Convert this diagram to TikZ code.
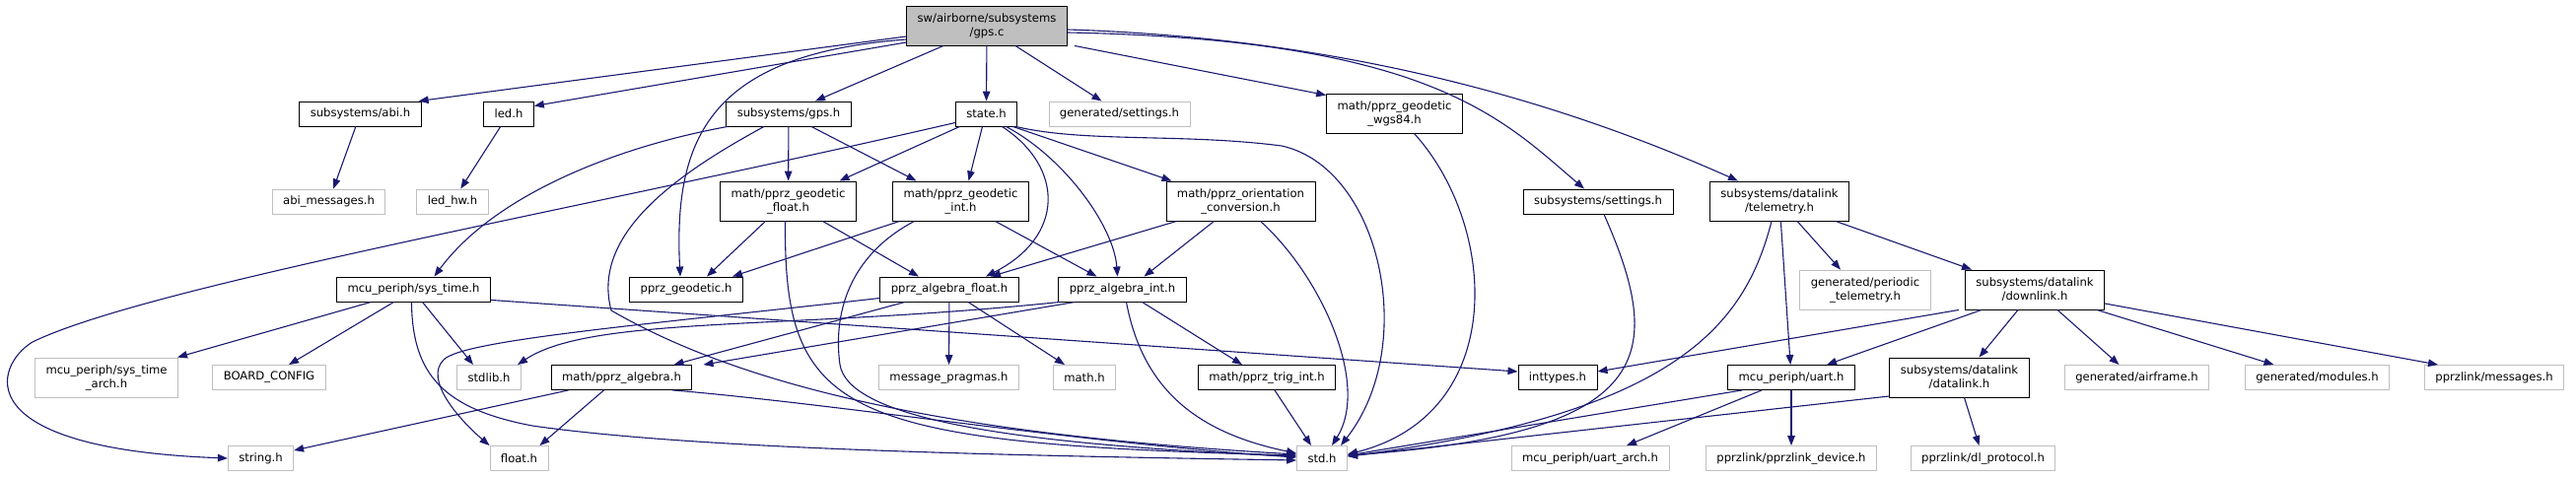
\documentclass[tikz,border=0pt]{standalone}
\usepackage{fontspec}
\setmainfont{DejaVu Sans}
\usetikzlibrary{arrows.meta}
\definecolor{DepNavy}{HTML}{191970}
\definecolor{DepGray}{HTML}{BFBFBF}
\tikzset{
depblock/.style={draw=black, line width=0.9pt, fill=white, align=center, inner xsep=11pt,
  minimum height=25pt, font=\fontsize{11.6}{14}\selectfont},
depgrey/.style={depblock, draw=DepGray},
deproot/.style={depblock, fill=DepGray},
deptwo/.style={minimum height=40pt},
deparrow/.style={-{Triangle[length=10pt,width=7.5pt]}, line width=1.1pt, draw=DepNavy}
}
\begin{document}
\begin{tikzpicture}[x=1pt, y=-1pt]
\useasboundingbox (0,0) rectangle (2613,484);

% rank 0 and 1
\node[deproot, deptwo] (gpsc) at (1001,26) {sw/airborne/subsystems\\/gps.c};
\node[depblock] (abi) at (365.5,115.5) {subsystems/abi.h};
\node[depblock] (led) at (516,115.5) {led.h};
\node[depblock] (gpsh) at (800,115.5) {subsystems/gps.h};
\node[depblock] (stateh) at (1000.5,115.5) {state.h};
\node[depgrey] (gensettings) at (1135.5,115.5) {generated/settings.h};
\node[depblock, deptwo] (wgs84) at (1414.5,115) {math/pprz\_geodetic\\\_wgs84.h};

% rank 2
\node[depgrey] (abimsg) at (333.5,204.5) {abi\_messages.h};
\node[depgrey] (ledhw) at (459,204.5) {led\_hw.h};
\node[depblock, deptwo] (geofloat) at (799.5,204) {math/pprz\_geodetic\\\_float.h};
\node[depblock, deptwo] (geoint) at (974.5,204) {math/pprz\_geodetic\\\_int.h};
\node[depblock, deptwo] (orient) at (1258.5,204) {math/pprz\_orientation\\\_conversion.h};
\node[depblock] (subsettings) at (1621,204.5) {subsystems/settings.h};
\node[depblock, deptwo] (telemetry) at (1805,204) {subsystems/datalink\\/telemetry.h};

% rank 3
\node[depblock] (systime) at (419.5,293.5) {mcu\_periph/sys\_time.h};
\node[depblock] (geodetic) at (696,293.5) {pprz\_geodetic.h};
\node[depblock] (algfloat) at (963,293.5) {pprz\_algebra\_float.h};
\node[depblock] (algint) at (1138.5,293.5) {pprz\_algebra\_int.h};
\node[depgrey, deptwo] (periodic) at (1892,294) {generated/periodic\\\_telemetry.h};
\node[depblock, deptwo] (downlink) at (2064,294) {subsystems/datalink\\/downlink.h};

% rank 4
\node[depgrey, deptwo] (systimearch) at (108,383) {mcu\_periph/sys\_time\\\_arch.h};
\node[depgrey] (boardcfg) at (273,383) {BOARD\_CONFIG};
\node[depgrey] (stdlib) at (496,383) {stdlib.h};
\node[depblock] (algebra) at (630.5,383) {math/pprz\_algebra.h};
\node[depgrey] (msgpragmas) at (962.5,383) {message\_pragmas.h};
\node[depgrey] (mathh) at (1100,383) {math.h};
\node[depblock] (trigint) at (1285,383) {math/pprz\_trig\_int.h};
\node[depblock] (inttypes) at (1580,383) {inttypes.h};
\node[depblock] (uart) at (1817,383) {mcu\_periph/uart.h};
\node[depblock, deptwo] (datalink) at (1987.5,383) {subsystems/datalink\\/datalink.h};
\node[depgrey] (airframe) at (2167.5,383) {generated/airframe.h};
\node[depgrey] (modules) at (2350.5,383) {generated/modules.h};
\node[depgrey] (messages) at (2530,383) {pprzlink/messages.h};

% rank 5
\node[depgrey] (stringh) at (264.5,465) {string.h};
\node[depgrey] (floath) at (526.5,465) {float.h};
\node[depgrey] (stdh) at (1341,465) {std.h};
\node[depgrey] (uartarch) at (1613,465) {mcu\_periph/uart\_arch.h};
\node[depgrey] (pldevice) at (1817,465) {pprzlink/pprzlink\_device.h};
\node[depgrey] (dlproto) at (2011.5,465) {pprzlink/dl\_protocol.h};

% straight down
\foreach \a/\b in {gpsc/stateh,abi/abimsg,led/ledhw,gpsh/geofloat,telemetry/uart,algfloat/msgpragmas,uart/pldevice}
\draw[deparrow] (\a) -- (\b);

% gps.c
\draw[deparrow] ([yshift=-11]gpsc.west) -- ([xshift=-3]abi.north east);
\draw[deparrow] ([yshift=-17]gpsc.west) -- ([yshift=8]led.east);
\draw[deparrow] ([xshift=-44]gpsc.south) -- ([xshift=27]gpsh.north);
\draw[deparrow] ([yshift=-14]gpsc.west) .. controls (720,55) and (683,140) .. ([xshift=-6]geodetic.north);
\draw[deparrow] ([xshift=29]gpsc.south) -- ([xshift=-18]gensettings.north);
\draw[deparrow] ([xshift=89]gpsc.south) -- ([yshift=-2]wgs84.north west);
\draw[deparrow] ([yshift=-7]gpsc.east) .. controls (1450,40) and (1523,120) .. ([xshift=-14]subsettings.north);
\draw[deparrow] ([yshift=-4]gpsc.east) .. controls (1400,40) and (1620,120) .. ([xshift=-42]telemetry.north);

% subsystems/gps.h
\draw[deparrow] ([xshift=-62]gpsh.south) .. controls (620,150) and (500,200) .. ([xshift=21]systime.north);
\draw[deparrow] ([xshift=23]gpsh.south) -- ([xshift=-45]geoint.north);
\draw[deparrow] ([xshift=-25]gpsh.south) .. controls (680,180) and (600,240) .. (620,315)
  .. controls (750,390) and (950,440) .. ([yshift=4]stdh.west);

% state.h
\draw[deparrow] ([yshift=-9]stateh.west) .. controls (600,210) and (150,290) .. (33,347)
  .. controls (-5,370) and (-37,455) .. (stringh.west);
\draw[deparrow] ([xshift=-27]stateh.south) -- ([xshift=52]geofloat.north);
\draw[deparrow] ([xshift=-4]stateh.south) -- ([xshift=8]geoint.north);
\draw[deparrow] ([xshift=16]stateh.south) .. controls (1080,170) and (1080,240) .. ([xshift=37]algfloat.north);
\draw[deparrow] ([xshift=20]stateh.south) .. controls (1080,160) and (1130,230) .. ([xshift=-5]algint.north);
\draw[deparrow] ([xshift=27]stateh.south) -- ([xshift=-70]orient.north);
\draw[deparrow] ([xshift=30]stateh.south) .. controls (1100,145) and (1200,135) .. (1300,148)
  .. controls (1400,170) and (1440,350) .. ([xshift=19]stdh.north);

% geodetic float / int, orientation
\draw[deparrow] ([xshift=-23]geofloat.south) -- ([xshift=21]geodetic.north);
\draw[deparrow] ([xshift=-3]geofloat.south) .. controls (795,420) and (850,450) .. ([yshift=3]stdh.west);
\draw[deparrow] ([xshift=35]geofloat.south) -- ([xshift=-31]algfloat.north);
\draw[deparrow] ([xshift=-62]geoint.south) -- ([xshift=47]geodetic.north);
\draw[deparrow] ([xshift=35]geoint.south) -- ([xshift=-26]algint.north);
\draw[deparrow] ([xshift=-47]geoint.south) .. controls (860,260) and (845,320) .. (852,370)
  .. controls (860,420) and (1000,450) .. ([yshift=2]stdh.west);
\draw[deparrow] ([xshift=-65]orient.south) -- ([xshift=42]algfloat.north);
\draw[deparrow] ([xshift=-27]orient.south) -- ([xshift=22]algint.north);
\draw[deparrow] ([xshift=20]orient.south) .. controls (1340,280) and (1390,390) .. ([xshift=10]stdh.north);

% wgs84, settings, telemetry
\draw[deparrow] ([xshift=20]wgs84.south) .. controls (1520,230) and (1530,420) .. ([yshift=4]stdh.east);
\draw[deparrow] ([xshift=6]subsettings.south) .. controls (1690,360) and (1680,440) .. ([yshift=3]stdh.east);
\draw[deparrow] ([xshift=-8]telemetry.south) .. controls (1770,330) and (1700,420) .. ([yshift=2]stdh.east);
\draw[deparrow] ([xshift=18]telemetry.south) -- ([xshift=-25]periodic.north);
\draw[deparrow] ([xshift=57]telemetry.south) -- ([xshift=-64]downlink.north);

% sys_time.h
\draw[deparrow] ([xshift=-43]systime.south) -- ([xshift=72]systimearch.north);
\draw[deparrow] ([xshift=-20]systime.south) -- ([xshift=20]boardcfg.north);
\draw[deparrow] ([xshift=9]systime.south) -- ([xshift=-16]stdlib.north);
\draw[deparrow] ([xshift=-2]systime.south) .. controls (418,380) and (450,415) .. (540,432)
  .. controls (700,455) and (1000,462) .. ([yshift=-2]stdh.west);
\draw[deparrow] ([yshift=2]systime.south east) -- ([yshift=6]inttypes.west);

% algebra float / int
\draw[deparrow] ([xshift=-45]algfloat.south) -- ([xshift=53]algebra.north);
\draw[deparrow] ([xshift=19]algfloat.south) -- ([xshift=-20]mathh.north);
\draw[deparrow] ([yshift=-9]algfloat.west) .. controls (650,330) and (470,345) .. (450,365)
  .. controls (430,385) and (465,425) .. ([xshift=-30]floath.north);
\draw[deparrow] ([xshift=-48]algint.south) -- ([xshift=83]algebra.north);
\draw[deparrow] ([xshift=-63]algint.south) .. controls (800,335) and (600,320) .. ([xshift=29]stdlib.north);
\draw[deparrow] ([xshift=20]algint.south) -- ([xshift=-25]trigint.north);
\draw[deparrow] ([xshift=4]algint.south) .. controls (1160,400) and (1220,440) .. ([yshift=5]stdh.west);

% pprz_algebra.h, trig
\draw[deparrow] ([xshift=-54]algebra.south) -- ([yshift=8]stringh.east);
\draw[deparrow] ([xshift=-18]algebra.south) -- ([xshift=21]floath.north);
\draw[deparrow] ([xshift=52]algebra.south) .. controls (850,410) and (1100,450) .. ([yshift=1]stdh.west);
\draw[deparrow] ([xshift=8]trigint.south) -- ([xshift=-11]stdh.north);

% downlink, uart, datalink
\draw[deparrow] ([xshift=-77]downlink.south) -- ([yshift=6]inttypes.east);
\draw[deparrow] ([xshift=-54]downlink.south) -- ([xshift=36]uart.north);
\draw[deparrow] ([xshift=-17]downlink.south) -- ([xshift=20]datalink.north);
\draw[deparrow] ([xshift=23]downlink.south) -- ([xshift=-18]airframe.north);
\draw[deparrow] ([xshift=63]downlink.south) -- ([xshift=-44]modules.north);
\draw[deparrow] ([yshift=-14]downlink.east) -- ([xshift=-57]messages.north);
\draw[deparrow] ([xshift=-50]uart.south) -- ([yshift=3]stdh.east);
\draw[deparrow] ([xshift=-30]uart.south) -- ([xshift=37]uartarch.north);
\draw[deparrow] ([yshift=-19]datalink.west) -- ([yshift=2]stdh.east);
\draw[deparrow] ([xshift=5]datalink.south) -- ([xshift=-4]dlproto.north);
\end{tikzpicture}
\end{document}
